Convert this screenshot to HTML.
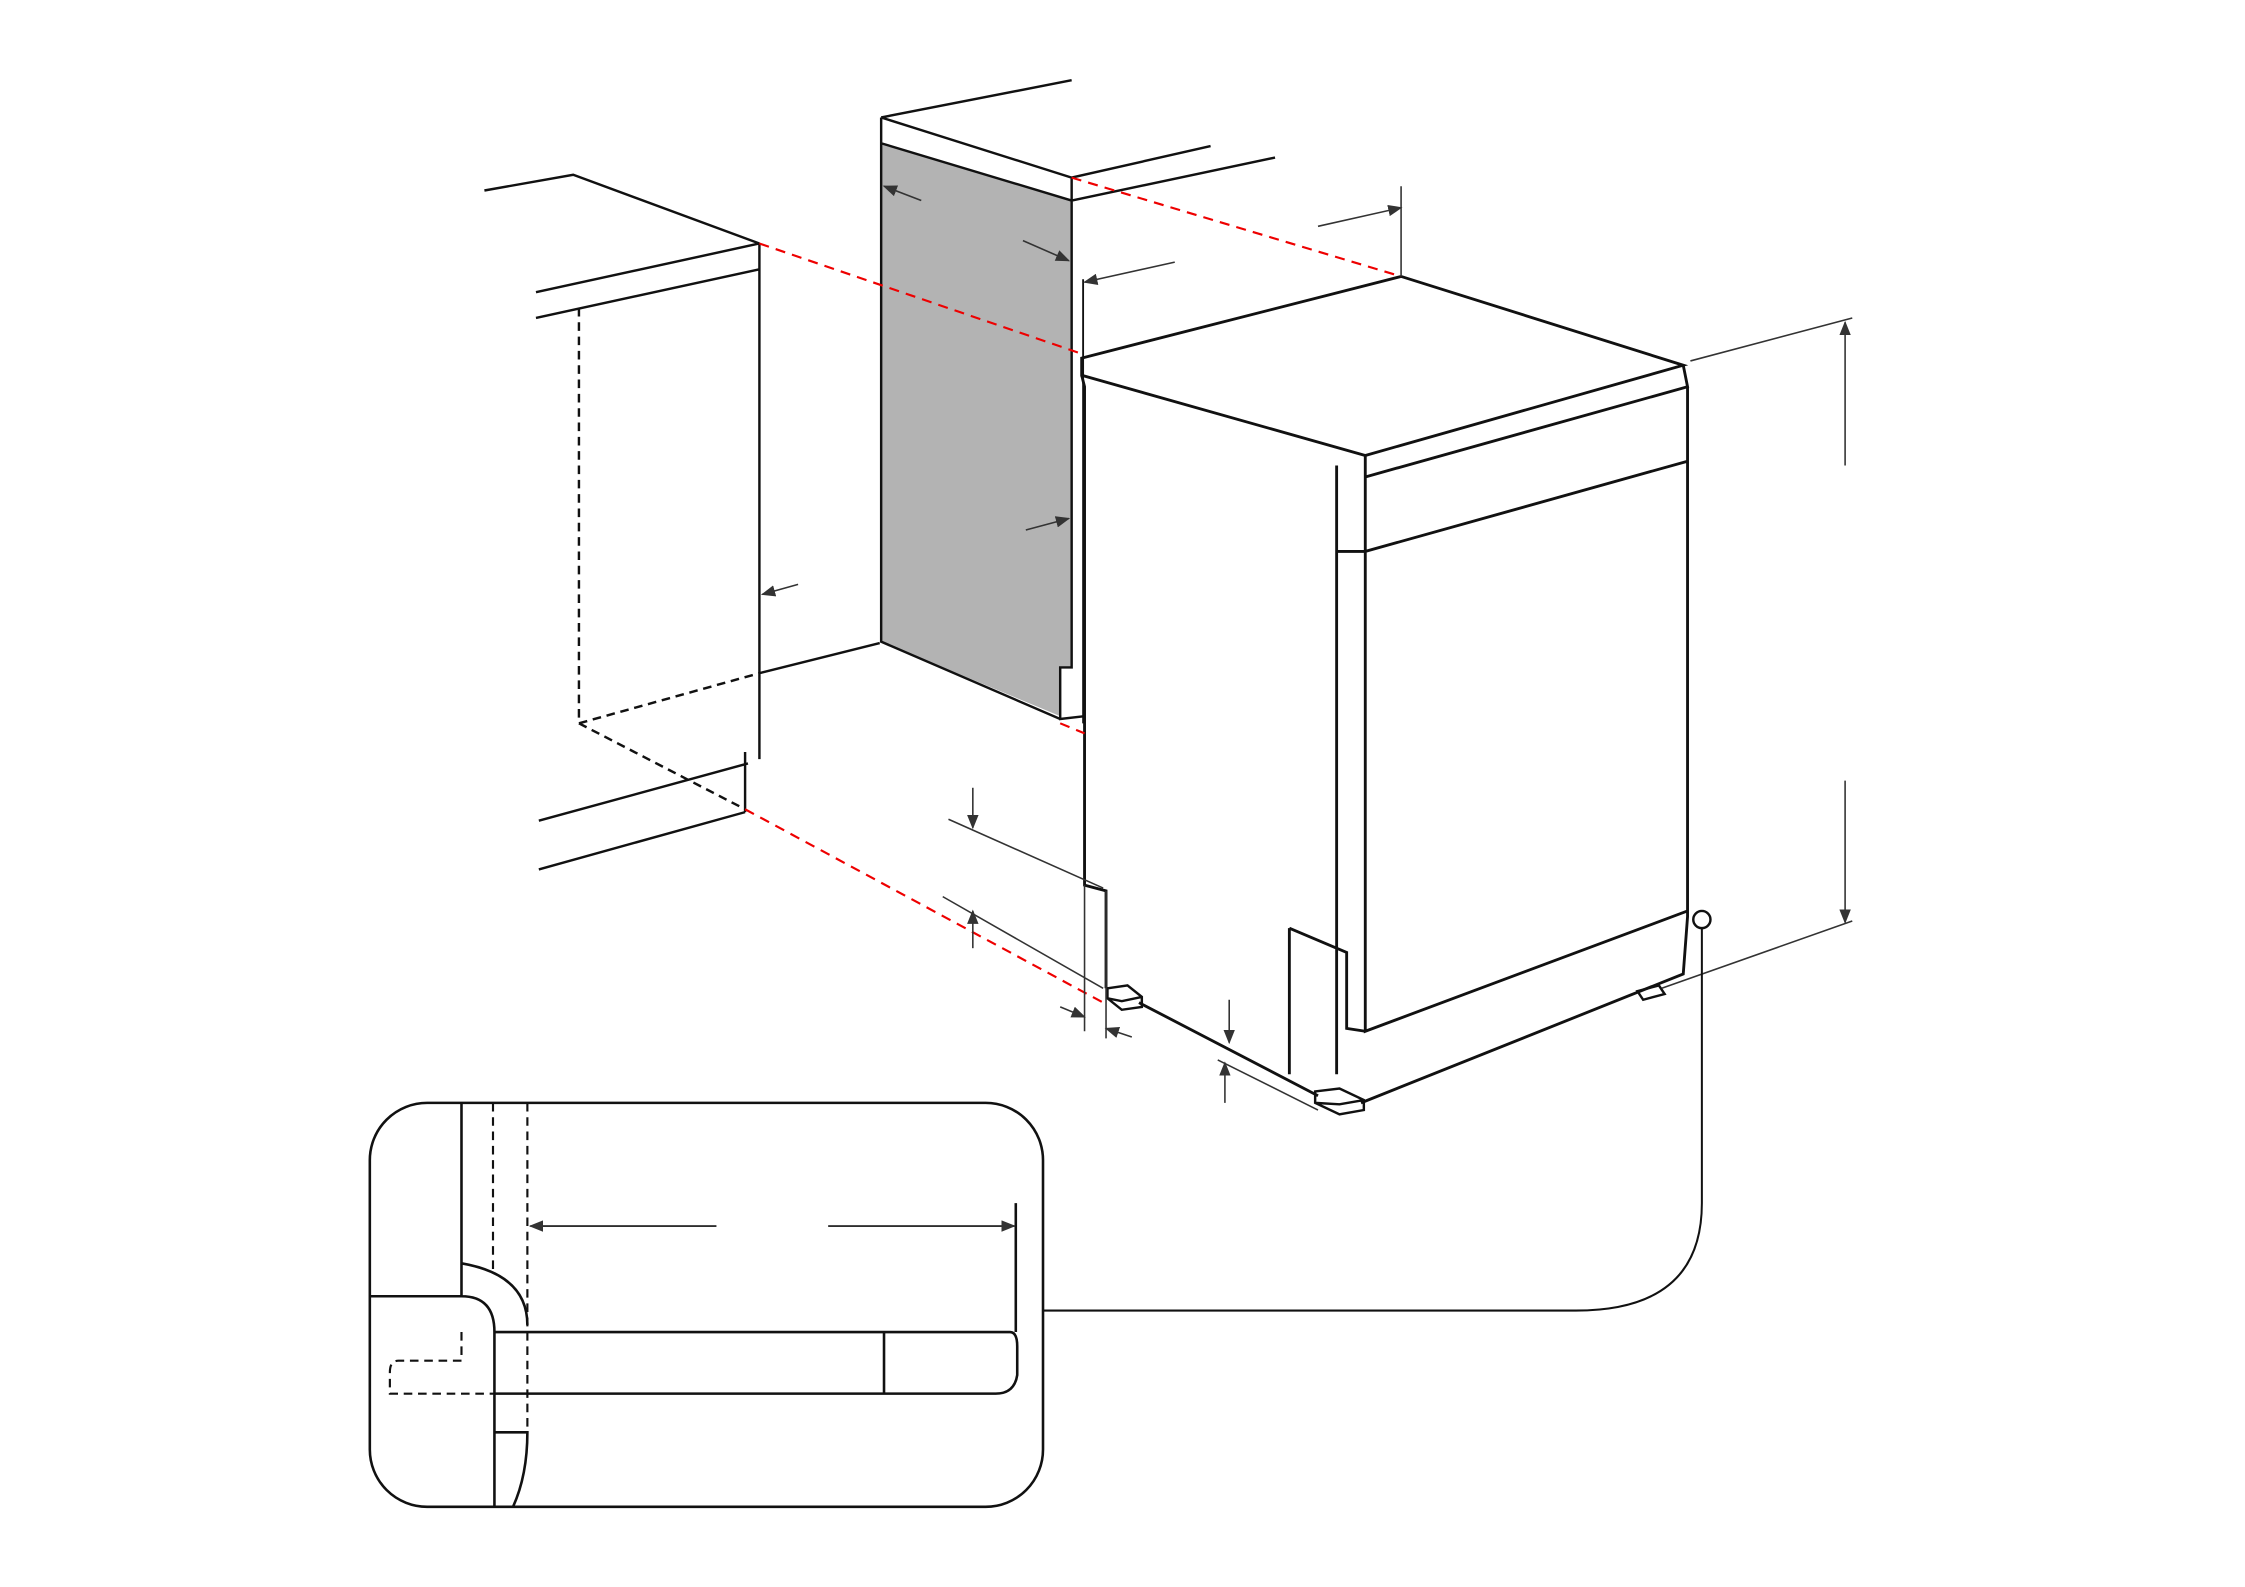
<!DOCTYPE html><html><head><style>html,body{margin:0;padding:0;background:#fff}svg{display:block}</style></head><body>
<svg width="2245" height="1587" viewBox="0 0 1567 1108" xmlns="http://www.w3.org/2000/svg">
<defs><marker id="a" markerWidth="10" markerHeight="8" refX="9" refY="4" orient="auto" markerUnits="userSpaceOnUse"><path d="M0,0 L10,4 L0,8z" fill="#333"/></marker></defs>
<g fill="none" stroke="#111" stroke-width="1.7">
<polygon points="615,100 748,140 748,466 740,466 740,500 615,448" fill="#b3b3b3" stroke="none"/>
<path d="M338,133 L400,122 L530,170 M374,204 L530,170 M374,222 L530,188 M530,170 L530,530 M530,470 L614,449 M376,573 L522,533 M376,607 L520,567 M520,525 L520,567"/>
<path d="M404,215 L404,505 L530,470 M404,505 L520,565" stroke-dasharray="6,4"/>
<path d="M615,82 L748,56 M615,82 L748,124 L845,102 M748,140 L890,110 M615,82 L615,448 L740,502 M615,100 L748,140 L748,466 L740,466 L740,502 L757,500 M748,124 L748,140"/>
<path d="M756,195 L756,505" stroke-width="1.3"/>
<path d="M755,250 L978,193 L1175,255 L953,318 L755,262 Z M953,318 L953,333 L1178,270 L1175,255 M755,262 L757,270 L757,618 L772,622 L772,690 M933,325 L933,385 L933,750 M933,385 L953,385 L1178,322 M953,333 L953,720 L1178,636 M1178,270 L1178,640 L1175,680 L950,770 M795,700 L920,765 M900,648 L940,665 L940,718 L953,720 M900,648 L900,750" stroke-width="2"/>
<path d="M773,690 L787,688 L797,696 L797,703 L783,705 L773,697 Z M773,697 L783,699 L797,696 M918,762 L935,760 L952,768 L952,775 L935,778 L918,770 Z M918,770 L935,771 L952,768 M1143,692 L1158,688 L1162,694 L1147,698 Z" stroke-width="1.7"/>
<path d="M530,170 L755,247 M748,124 L978,193 M740,505 L757,512 M520,565 L770,700" stroke="#e00" stroke-dasharray="7,5" stroke-width="1.5"/>
<g stroke-width="1.1" stroke="#333">
<path d="M557,408 L532,415" marker-end="url(#a)"/>
<path d="M643,140 L617,130" marker-end="url(#a)"/>
<path d="M714,168 L746,182" marker-end="url(#a)"/>
<path d="M716,370 L746,362" marker-end="url(#a)"/>
<path d="M820,183 L757,197" marker-end="url(#a)"/>
<path d="M920,158 L978,145" marker-end="url(#a)"/>
<path d="M978,130 L978,193 M1180,252 L1293,222 M1160,690 L1293,643 M662,572 L770,620 M658,626 L770,690 M772,622 L772,725 M757,618 L757,720 M850,740 L920,775"/>
<path d="M1288,325 L1288,225" marker-end="url(#a)"/>
<path d="M1288,545 L1288,644" marker-end="url(#a)"/>
<path d="M679,550 L679,578" marker-end="url(#a)"/>
<path d="M679,662 L679,636" marker-end="url(#a)"/>
<path d="M740,703 L757,710" marker-end="url(#a)"/>
<path d="M790,724 L772,718" marker-end="url(#a)"/>
<path d="M858,698 L858,728" marker-end="url(#a)"/>
<path d="M855,770 L855,742" marker-end="url(#a)"/>
</g>
<circle cx="1188" cy="642" r="6" stroke-width="1.7"/>
<path d="M1188,648 L1188,840 Q1188,915 1100,915 L728,915" stroke-width="1.4"/>
<rect x="258" y="770" width="470" height="282" rx="40" stroke-width="1.8"/>
<path d="M322,770 L322,905 M258,905 L322,905 Q345,905 345,930 L345,1052 M322,882 Q368,890 368,925 M345,930 L705,930 Q710,930 710,940 L710,960 Q708,973 695,973 L345,973 M617,930 L617,973 M345,1000 L368,1000 Q368,1030 358,1052 M709,840 L709,930" stroke-width="1.8"/>
<path d="M344,770 L344,890 M368,770 L368,1000 M322,930 L322,950 L278,950 Q272,950 272,958 L272,973 L345,973" stroke-dasharray="6,4" stroke-width="1.5"/>
<path d="M500,856 L370,856" stroke-width="1.2" marker-end="url(#a)"/>
<path d="M578,856 L708,856" stroke-width="1.2" marker-end="url(#a)"/>
</g>
</svg>
</body></html>
